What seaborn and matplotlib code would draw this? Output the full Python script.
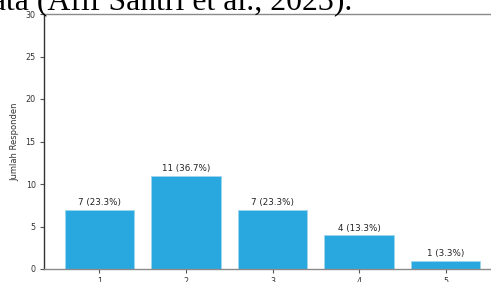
import matplotlib
matplotlib.use("Agg")
import pandas as pd
import seaborn as sb
import matplotlib.pyplot as plt

skala = ["1", "2", "3", "4", "5"]
jumlah = [7, 11, 7, 4, 1]
persen = [23.3, 36.7, 23.3, 13.3, 3.3]

df = pd.DataFrame({"skala": skala, "jumlah": jumlah})

sb.set_style("white")
fig = plt.figure(figsize=(4.91, 2.82), dpi=100)
ax = fig.add_axes([44 / 491, 13 / 282, 457 / 491, 255 / 282])

sb.barplot(data=df, x="skala", y="jumlah", color="#29a8e0", saturation=1,
           width=0.8, edgecolor="#9fd6f0", linewidth=0.6, ax=ax)

labels = [f"{j} ({p}%)" for j, p in zip(jumlah, persen)]
ax.bar_label(ax.containers[0], labels=labels, padding=1.5, fontsize=6.3, color="#222222")

ax.set_xlim(-0.64, 4.64)
ax.set_ylim(0, 30)
ax.set_yticks([0, 5, 10, 15, 20, 25, 30])
ax.set_xlabel("")
ax.set_ylabel("Jumlah Responden", fontsize=6, color="#333333", labelpad=4)
ax.tick_params(axis="both", labelsize=5.8, length=3, width=0.8, color="#555555",
               labelcolor="#333333", left=True, bottom=True, pad=3)

for side in ["top", "bottom", "right"]:
    ax.spines[side].set_color("#8a8a8a")
    ax.spines[side].set_linewidth(1.0)
ax.spines["left"].set_color("#333333")
ax.spines["left"].set_linewidth(1.0)

# potongan teks dokumen di atas grafik
fig.text(352 / 491, 272 / 282, "data (Afif Santri et al., 2023).", ha="right", va="baseline",
         fontsize=22.9, family="Liberation Serif", color="black")

plt.savefig("out.png", dpi=100)
